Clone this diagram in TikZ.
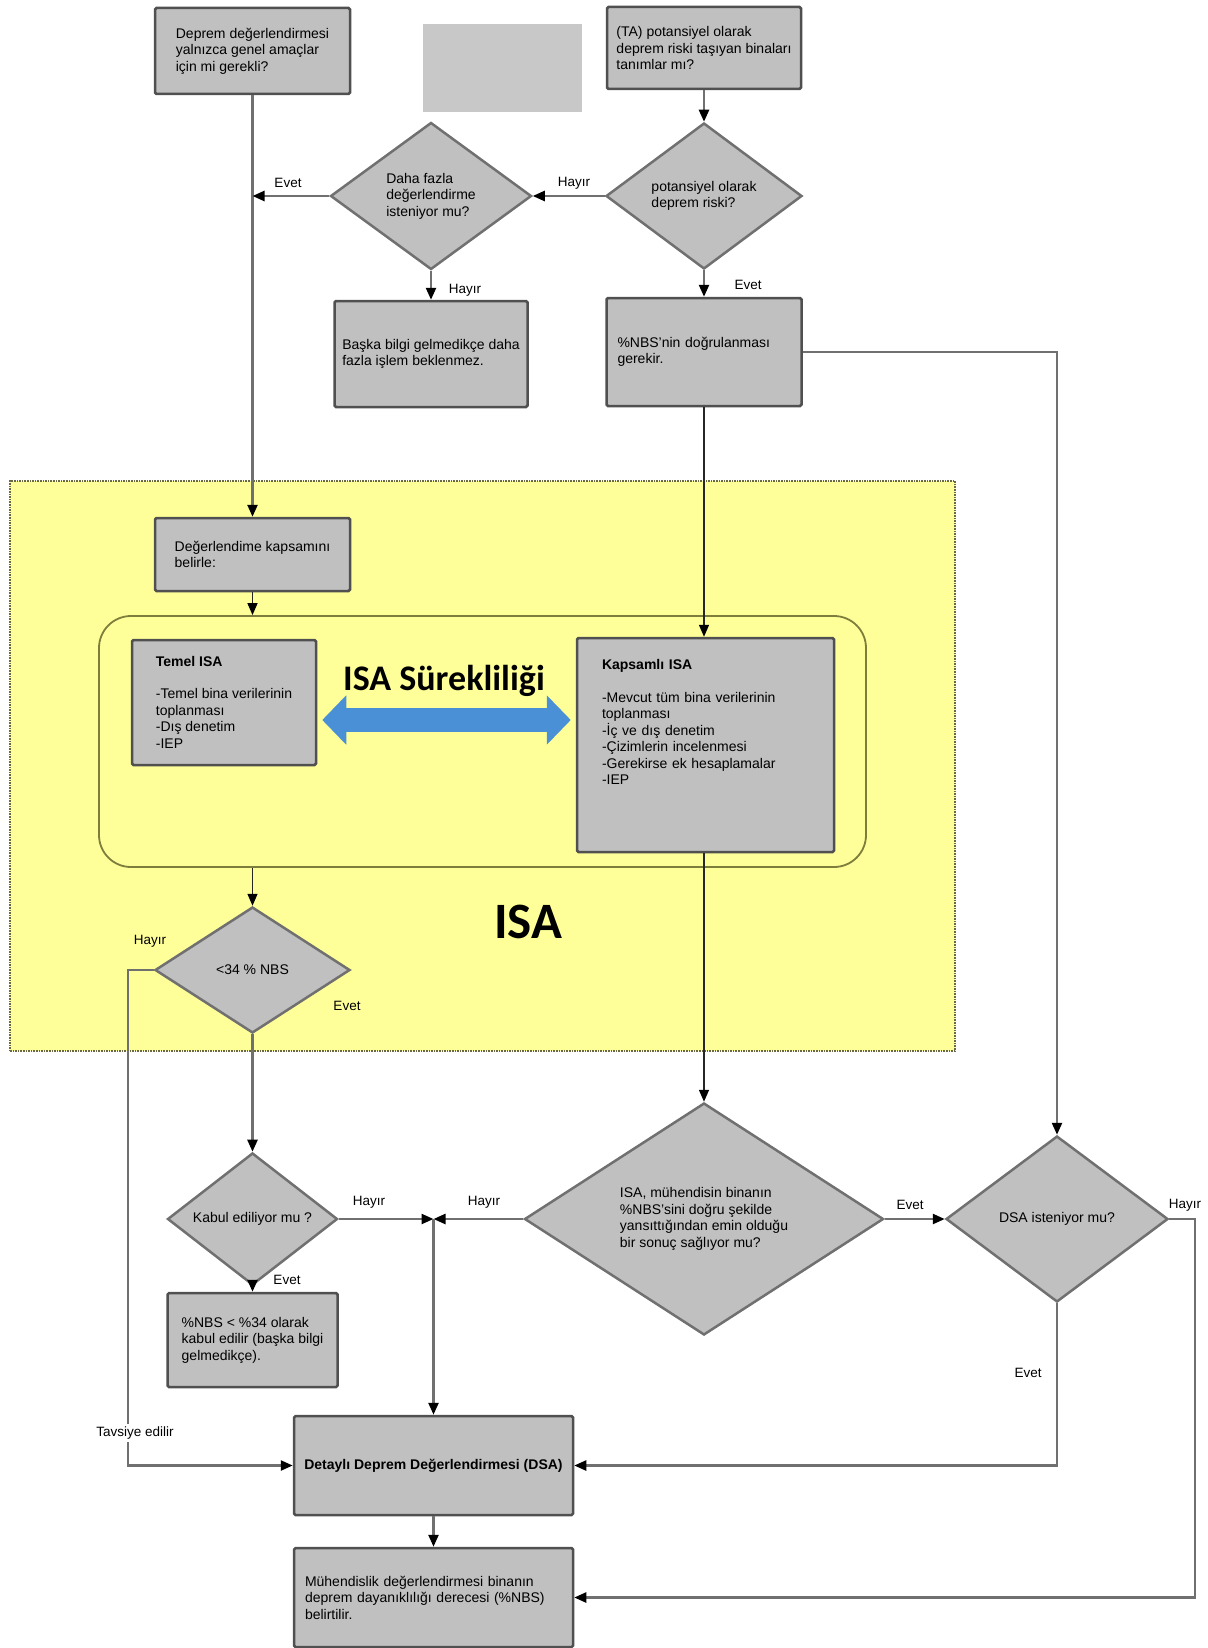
\documentclass[tikz,border=0pt]{standalone}
\usepackage{fontspec}
\setmainfont{Liberation Sans}
\newfontfamily\calibri{Carlito}
\usetikzlibrary{positioning, shapes.geometric, arrows.meta}

\definecolor{boxfill}{RGB}{192,192,192}
\definecolor{blankfill}{RGB}{200,200,200}
\definecolor{boxline}{RGB}{80,80,80}
\definecolor{flowgray}{RGB}{112,112,112}
\definecolor{zoneyellow}{RGB}{255,255,153}
\definecolor{zoneline}{RGB}{105,105,70}
\definecolor{contline}{RGB}{125,125,60}
\definecolor{isablue}{RGB}{74,144,214}

\begin{document}
\begin{tikzpicture}[x=1pt, y=-1pt,
                    font=\fontsize{14}{16.5}\selectfont,
                    stepbox/.style={rectangle, draw=boxline, fill=boxfill, line width=2.5pt, rounded corners=1.5pt, align=left, inner sep=2pt},
                    decision/.style={diamond, draw=flowgray, fill=boxfill, line width=2.5pt, align=left, inner sep=0pt},
                    zonebox/.style={rectangle, draw=zoneline, fill=zoneyellow, densely dotted, line width=1.6pt, inner sep=0pt},
                    contbox/.style={rectangle, draw=contline, line width=1.8pt, rounded corners=32pt, inner sep=0pt},
                    flow/.style={draw=flowgray, line width=2.4pt, -{Triangle[length=12pt,width=10pt,color=black]}},
                    thinflow/.style={draw=black!85, line width=1.5pt, -{Triangle[length=12pt,width=10pt,color=black]}},
                    isaflow/.style={draw=isablue, line width=24pt, {Triangle[length=24pt,width=48pt]}-{Triangle[length=24pt,width=48pt]}},
                    lbl/.style={font=\fontsize{13.5}{16}\selectfont, inner sep=1pt},
                ]
                    \useasboundingbox (0,0) rectangle (1207,1648);

                    %Background
                    \node[zonebox, minimum width=945pt, minimum height=570pt](zone) at (482.5,766) {};
                    \node[contbox, minimum width=767pt, minimum height=251pt](cont) at (482.5,741.5) {};

                    %Nodes
                    \node[stepbox, minimum width=195pt, minimum height=86pt](general) at (252.5,51) {Deprem değerlendirmesi\\yalnızca genel amaçlar\\için mi gerekli?};
                    \node[fill=blankfill, minimum width=159pt, minimum height=88pt, inner sep=0pt](blank) at (502.5,68) {};
                    \node[stepbox, minimum width=194pt, minimum height=82pt](ta) at (704,48) {(TA) potansiyel olarak\\deprem riski taşıyan binaları\\tanımlar mı?};
                    \node[decision, minimum width=196pt, minimum height=146pt](riskq) at (704,196) {potansiyel olarak\\deprem riski?};
                    \node[decision, minimum width=201pt, minimum height=147pt](moreq) at (431,196) {Daha fazla\\değerlendirme\\isteniyor mu?};
                    \node[stepbox, minimum width=193pt, minimum height=106pt](wait) at (431,354) {Başka bilgi gelmedikçe daha\\fazla işlem beklenmez.};
                    \node[stepbox, minimum width=195pt, minimum height=108pt, text width=173pt, inner xsep=11pt](verify) at (704,352) {\%NBS'nin doğrulanması\\gerekir.};

                    \node[stepbox, minimum width=195pt, minimum height=73pt](scope) at (252.5,554.5) {Değerlendime kapsamını\\belirle:};
                    \node[stepbox, minimum width=184pt, minimum height=125pt](basic) at (224,702.5) {\textbf{Temel ISA}\\[15.5pt]-Temel bina verilerinin\\toplanması\\-Dış denetim\\-IEP};
                    \node[stepbox, minimum width=257pt, minimum height=214pt, text width=207pt, inner xsep=25pt](full) at (705.5,745) {\textbf{Kapsamlı ISA}\\[16pt]-Mevcut tüm bina verilerinin\\toplanması\\-İç ve dış denetim\\-Çizimlerin incelenmesi\\-Gerekirse ek hesaplamalar\\-IEP\\[29pt]~};
                    \node[font=\calibri\bfseries\fontsize{36}{40}\selectfont, anchor=base](contlabel) at (444,690) {ISA Sürekliliği};
                    \node[font=\calibri\bfseries\fontsize{51}{56}\selectfont, anchor=base](zonelabel) at (528,938) {ISA};
                    \node[decision, minimum width=195pt, minimum height=126pt](cut34) at (252.5,970) {<34 \% NBS};

                    \node[decision, minimum width=170pt, minimum height=96pt](acceptq) at (252.5,1219) {Kabul ediliyor mu ?};
                    \node[stepbox, minimum width=170pt, minimum height=94pt](accepted) at (252.5,1340) {\%NBS < \%34 olarak\\kabul edilir (başka bilgi\\gelmedikçe).};
                    \node[decision, minimum width=359pt, minimum height=232pt](isaq) at (704,1219) {ISA, mühendisin binanın\\\%NBS'sini doğru şekilde\\yansıttığından emin olduğu\\bir sonuç sağlıyor mu?};
                    \node[decision, minimum width=222pt, minimum height=166pt](dsaq) at (1057,1219) {DSA isteniyor mu?};
                    \node[stepbox, minimum width=279pt, minimum height=99pt](dsa) at (433.5,1465.5) {\textbf{Detaylı Deprem Değerlendirmesi (DSA)}};
                    \node[stepbox, minimum width=279pt, minimum height=99pt, text width=257pt, inner xsep=11pt](result) at (433.5,1597.5) {Mühendislik değerlendirmesi binanın\\deprem dayanıklılığı derecesi (\%NBS)\\belirtilir.};

                    \coordinate (join) at (general.south |- moreq.west);
                    \coordinate (merge) at (dsa.north |- acceptq.east);
                    \coordinate (flowL) at ([xshift=5pt,yshift=-17.5pt]basic.east);
                    \coordinate (flowR) at (flowL -| full.west);

                    %Lines
                    \draw[flow](general.south) -- (scope.north);
                    \draw[flow](moreq.west) -- (join);
                    \draw[flow](ta.south) -- (riskq.north);
                    \draw[flow](riskq.west) -- (moreq.east);
                    \draw[flow](moreq.south) -- (wait.north);
                    \draw[flow](riskq.south) -- (verify.north);
                    \draw[flow](verify.east) -| (dsaq.north);
                    \draw[thinflow](verify.south) -- (verify.south |- full.north);
                    \draw[thinflow](scope.south) -- (scope.south |- cont.north);
                    \draw[isaflow](flowL) -- ([xshift=-5pt]flowR);
                    \draw[thinflow](cut34.north |- cont.south) -- (cut34.north);
                    \draw[flow](cut34.west) -- ++(-26,0) |- (dsa.west);
                    \draw[flow](cut34.south) -- (acceptq.north);
                    \draw[thinflow](isaq.north |- full.south) -- (isaq.north);
                    \draw[flow](acceptq.south) -- (accepted.north);
                    \draw[flow](acceptq.east) -- (merge);
                    \draw[flow](isaq.west) -- (merge);
                    \draw[flow](merge) -- (dsa.north);
                    \draw[flow](isaq.east) -- (dsaq.west);
                    \draw[flow](dsaq.south) |- (dsa.east);
                    \draw[flow](dsaq.east) -- ++(26,0) |- (result.east);
                    \draw[flow](dsa.south) -- (result.north);

                    %Labels
                    \node[lbl](l1) at (288,183) {Evet};
                    \node[lbl](l2) at (574,183) {Hayır};
                    \node[lbl](l3) at (465,290) {Hayır};
                    \node[lbl](l4) at (748,285) {Evet};
                    \node[lbl](l5) at (150,941) {Hayır};
                    \node[lbl](l6) at (347,1006) {Evet};
                    \node[lbl, fill=white, inner sep=3pt](l7) at (135,1433) {Tavsiye edilir};
                    \node[lbl](l8) at (287,1280) {Evet};
                    \node[lbl](l9) at (369,1202) {Hayır};
                    \node[lbl](l10) at (484,1202) {Hayır};
                    \node[lbl](l11) at (910,1205) {Evet};
                    \node[lbl](l12) at (1185,1205) {Hayır};
                    \node[lbl](l13) at (1028,1373) {Evet};
                \end{tikzpicture}
\end{document}
